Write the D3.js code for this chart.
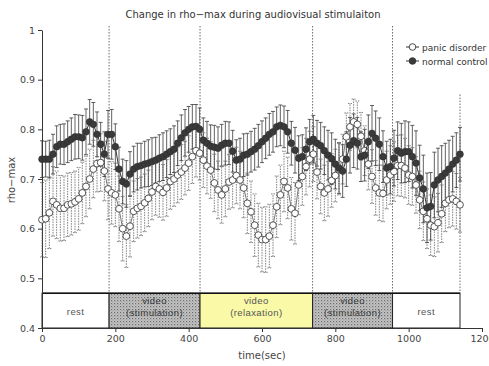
<!DOCTYPE html>
<html>
<head>
<meta charset="utf-8">
<script src="https://cdn.jsdelivr.net/npm/d3@7"></script>
<style>
  body { margin: 0; background: #fff; }
  svg { display: block; font-family: "DejaVu Sans", sans-serif; }
</style>
</head>
<body>
<div id="chart"></div>
<script>
// rho-max, one value every 10 sec (0 .. 1140 s)
const panic = [
  0.618, 0.620, 0.632, 0.655, 0.648, 0.641, 0.641, 0.648, 0.650, 0.654, 0.660, 0.672,
  0.685, 0.700, 0.720, 0.731, 0.733, 0.716, 0.680, 0.672, 0.668, 0.640, 0.600, 0.585,
  0.605, 0.635, 0.641, 0.645, 0.652, 0.661, 0.674, 0.685, 0.680, 0.673, 0.682, 0.695,
  0.700, 0.708, 0.714, 0.722, 0.732, 0.745, 0.757, 0.752, 0.738, 0.726, 0.718, 0.692,
  0.678, 0.668, 0.680, 0.694, 0.698, 0.707, 0.698, 0.682, 0.651, 0.634, 0.607, 0.587,
  0.578, 0.578, 0.585, 0.607, 0.644, 0.668, 0.695, 0.682, 0.640, 0.631, 0.688, 0.705,
  0.725, 0.740, 0.750, 0.714, 0.685, 0.672, 0.680, 0.697, 0.707, 0.720, 0.740, 0.785,
  0.805, 0.815, 0.810, 0.786, 0.757, 0.730, 0.705, 0.682, 0.672, 0.671, 0.698, 0.708,
  0.715, 0.727, 0.727, 0.722, 0.708, 0.705, 0.688, 0.658, 0.635, 0.620, 0.607, 0.604,
  0.612, 0.630, 0.651, 0.658, 0.660, 0.655, 0.648
]
const panicSd = [
  0.075, 0.078, 0.072, 0.070, 0.068, 0.066, 0.065, 0.064, 0.063, 0.062, 0.063, 0.062,
  0.061, 0.060, 0.058, 0.057, 0.058, 0.060, 0.062, 0.063, 0.064, 0.066, 0.065, 0.063,
  0.062, 0.061, 0.060, 0.059, 0.058, 0.057, 0.056, 0.058, 0.057, 0.056, 0.057, 0.056,
  0.055, 0.056, 0.055, 0.054, 0.055, 0.054, 0.053, 0.054, 0.055, 0.056, 0.057, 0.058,
  0.058, 0.057, 0.056, 0.055, 0.056, 0.057, 0.058, 0.060, 0.061, 0.062, 0.063, 0.064,
  0.065, 0.066, 0.064, 0.063, 0.062, 0.060, 0.061, 0.062, 0.063, 0.062, 0.060, 0.058,
  0.057, 0.056, 0.055, 0.054, 0.055, 0.056, 0.055, 0.054, 0.053, 0.052, 0.050, 0.048,
  0.047, 0.046, 0.047, 0.048, 0.050, 0.052, 0.054, 0.055, 0.056, 0.057, 0.058, 0.059,
  0.060, 0.061, 0.062, 0.060, 0.059, 0.058, 0.057, 0.058, 0.059, 0.060, 0.061, 0.060,
  0.059, 0.058, 0.057, 0.056, 0.055, 0.056, 0.055
]
const control = [
  0.740, 0.740, 0.740, 0.750, 0.765, 0.770, 0.770, 0.775, 0.780, 0.785, 0.785, 0.783,
  0.795, 0.815, 0.810, 0.790, 0.770, 0.750, 0.790, 0.790, 0.765, 0.720, 0.695, 0.690,
  0.710, 0.720, 0.725, 0.727, 0.730, 0.732, 0.735, 0.738, 0.742, 0.745, 0.750, 0.755,
  0.760, 0.772, 0.783, 0.793, 0.800, 0.805, 0.806, 0.800, 0.778, 0.772, 0.766, 0.764,
  0.762, 0.768, 0.772, 0.772, 0.756, 0.738, 0.740, 0.748, 0.750, 0.755, 0.760, 0.767,
  0.775, 0.782, 0.790, 0.795, 0.805, 0.808, 0.805, 0.795, 0.772, 0.758, 0.742, 0.745,
  0.760, 0.775, 0.780, 0.772, 0.767, 0.757, 0.748, 0.741, 0.730, 0.722, 0.716, 0.740,
  0.768, 0.777, 0.772, 0.745, 0.748, 0.775, 0.792, 0.782, 0.770, 0.745, 0.722, 0.725,
  0.742, 0.757, 0.752, 0.755, 0.755, 0.745, 0.732, 0.702, 0.680, 0.642, 0.645, 0.688,
  0.698, 0.705, 0.712, 0.720, 0.730, 0.738, 0.750
]
const controlSd = [
  0.037, 0.036, 0.038, 0.040, 0.042, 0.040, 0.041, 0.042, 0.043, 0.045, 0.044, 0.045,
  0.046, 0.045, 0.044, 0.045, 0.044, 0.045, 0.048, 0.050, 0.046, 0.044, 0.045, 0.047,
  0.045, 0.046, 0.047, 0.045, 0.046, 0.047, 0.048, 0.046, 0.047, 0.048, 0.047, 0.046,
  0.047, 0.045, 0.046, 0.047, 0.046, 0.045, 0.044, 0.043, 0.045, 0.044, 0.043, 0.044,
  0.043, 0.042, 0.044, 0.043, 0.042, 0.041, 0.042, 0.043, 0.042, 0.041, 0.042, 0.043,
  0.042, 0.041, 0.042, 0.041, 0.040, 0.041, 0.042, 0.043, 0.044, 0.046, 0.045, 0.044,
  0.043, 0.045, 0.048, 0.046, 0.047, 0.048, 0.050, 0.052, 0.050, 0.051, 0.053, 0.055,
  0.056, 0.054, 0.052, 0.050, 0.052, 0.054, 0.056, 0.055, 0.053, 0.052, 0.054, 0.055,
  0.056, 0.058, 0.060, 0.062, 0.060, 0.063, 0.065, 0.066, 0.068, 0.070, 0.068, 0.066,
  0.064, 0.062, 0.060, 0.058, 0.056, 0.055, 0.054
]
const step = 10

const phaseEdges = [0, 183, 431, 738, 956, 1140]
const phaseNames = [["rest"], ["video", "(stimulation)"], ["video", "(relaxation)"], ["video", "(stimulation)"], ["rest"]]
const phaseKinds = ["rest", "stim", "relax", "stim", "rest"]
const phaseTop = 0.47

const xTicks = [0, 200, 400, 600, 800, 1000, 1200]
const yTicks = [0.4, 0.5, 0.6, 0.7, 0.8, 0.9, 1]
const seriesNames = ["panic disorder", "normal control"]

const W = 489, H = 366
const svg = d3.select("#chart").append("svg").attr("width", W).attr("height", H)

const x = d3.scaleLinear().domain([0, 1200]).range([42, 482])
const y = d3.scaleLinear().domain([0.4, 1]).range([328, 30])

// texture for the stimulation blocks
const defs = svg.append("defs")
const pat = defs.append("pattern").attr("id", "stim").attr("patternUnits", "userSpaceOnUse")
  .attr("width", 3).attr("height", 3)
pat.append("rect").attr("width", 3).attr("height", 3).attr("fill", "#c4c4c4")
pat.append("rect").attr("width", 1.2).attr("height", 1.2).attr("fill", "#6c6c6c")
pat.append("rect").attr("x", 1.5).attr("y", 1.5).attr("width", 1).attr("height", 1).attr("fill", "#8a8a8a")

const fills = { rest: "#fff", stim: "url(#stim)", relax: "#f9f9a8" }

svg.append("text").attr("x", 253).attr("y", 18).attr("text-anchor", "middle")
  .attr("font-size", 10).attr("fill", "#333")
  .text("Change in rho\u2212max during audiovisual stimulaiton")

// phase blocks
const phases = phaseNames.map((n, i) => ({ name: n, kind: phaseKinds[i], a: phaseEdges[i], b: phaseEdges[i + 1] }))
const pg = svg.append("g")
pg.selectAll("rect").data(phases).join("rect")
  .attr("x", d => x(d.a)).attr("y", y(phaseTop))
  .attr("width", d => x(d.b) - x(d.a)).attr("height", y(0.4) - y(phaseTop))
  .attr("fill", d => fills[d.kind]).attr("stroke", "#222").attr("stroke-width", 1)
pg.append("line").attr("x1", x(0)).attr("x2", x(1140)).attr("y1", y(phaseTop)).attr("y2", y(phaseTop))
  .attr("stroke", "#111").attr("stroke-width", 1.6)
pg.selectAll("text.ph").data(phases).join("text").attr("class", "ph")
  .attr("text-anchor", "middle").attr("font-size", 9.5)
  .attr("font-family", "Liberation Sans, Arial, sans-serif").attr("letter-spacing", 0.4)
  .attr("fill", d => d.kind == "stim" ? "#3a3a3a" : "#555")
  .attr("x", d => x((d.a + d.b) / 2))
  .attr("y", d => d.name.length > 1 ? 304 : 315)
  .selectAll("tspan").data(d => d.name).join("tspan")
  .attr("x", function () { return d3.select(this.parentNode).attr("x") })
  .attr("dy", (d, i) => i ? 12 : 0)
  .text(d => d)

// dashed phase separators
const sep = phaseEdges.slice(1)
svg.selectAll("line.sep").data(sep).join("line").attr("class", "sep")
  .attr("x1", d => x(d)).attr("x2", d => x(d))
  .attr("y1", d => d == 1140 ? y(0.87) : y(1.008)).attr("y2", y(phaseTop))
  .attr("stroke", "#444").attr("stroke-width", 0.8).attr("stroke-dasharray", "1.5,1.5")

// axes
const ya = svg.append("g").attr("transform", `translate(${x(0)},0)`)
  .call(d3.axisLeft(y).tickValues(yTicks).tickSize(4).tickSizeOuter(0)
    .tickFormat(d => d == 1 ? "1" : d3.format(".1f")(d)))
const xa = svg.append("g").attr("transform", `translate(0,${y(0.4)})`)
  .call(d3.axisBottom(x).tickValues(xTicks).tickSize(4).tickSizeOuter(0).tickFormat(d3.format("d")))
;[ya, xa].forEach(g => {
  g.selectAll("path, line").attr("stroke", "#333")
  g.selectAll("text").attr("font-size", 9.5).attr("fill", "#444").attr("font-family", "DejaVu Sans, sans-serif")
})

svg.append("text").attr("transform", "translate(15,180) rotate(-90)").attr("text-anchor", "middle")
  .attr("font-size", 10).attr("fill", "#444").text("rho\u2212max")
svg.append("text").attr("x", 262).attr("y", 359).attr("text-anchor", "middle")
  .attr("font-size", 10).attr("fill", "#444").text("time(sec)")

// data
const pd = panic.map((v, i) => ({ t: i * step, v, sd: panicSd[i] }))
const nc = control.map((v, i) => ({ t: i * step, v, sd: controlSd[i] }))

function errorBars(data, color, dash) {
  const g = svg.append("g").attr("stroke", color).attr("stroke-width", 0.8)
  if (dash) g.attr("stroke-dasharray", dash)
  g.selectAll("line.v").data(data).join("line").attr("class", "v")
    .attr("x1", d => x(d.t)).attr("x2", d => x(d.t))
    .attr("y1", d => y(d.v - d.sd)).attr("y2", d => y(d.v + d.sd))
  const caps = data.flatMap(d => [d.v - d.sd, d.v + d.sd].map(e => ({ t: d.t, e })))
  g.selectAll("line.c").data(caps).join("line").attr("class", "c")
    .attr("x1", d => x(d.t) - 2).attr("x2", d => x(d.t) + 2)
    .attr("y1", d => y(d.e)).attr("y2", d => y(d.e))
    .attr("stroke-dasharray", null)
}

errorBars(pd, "#666", "1.6,1")
errorBars(nc, "#3a3a3a", null)

const line = d3.line().x(d => x(d.t)).y(d => y(d.v))
svg.append("path").datum(pd).attr("d", line).attr("fill", "none").attr("stroke", "#555").attr("stroke-width", 0.8)
svg.selectAll("circle.pd").data(pd).join("circle").attr("class", "pd")
  .attr("cx", d => x(d.t)).attr("cy", d => y(d.v)).attr("r", 3.4)
  .attr("fill", "#fff").attr("stroke", "#444").attr("stroke-width", 0.9)

svg.append("path").datum(nc).attr("d", line).attr("fill", "none").attr("stroke", "#333").attr("stroke-width", 1)
svg.selectAll("circle.nc").data(nc).join("circle").attr("class", "nc")
  .attr("cx", d => x(d.t)).attr("cy", d => y(d.v)).attr("r", 3.4)
  .attr("fill", "#3a3a3a").attr("stroke", "#2a2a2a").attr("stroke-width", 0.5)

// legend
const lg = svg.append("g").attr("transform", "translate(406,47)")
seriesNames.forEach((name, i) => {
  const row = lg.append("g").attr("transform", `translate(0,${i * 14})`)
  row.append("line").attr("x1", 0).attr("x2", 13).attr("stroke", "#333").attr("stroke-width", 1)
  row.append("circle").attr("cx", 6.5).attr("r", 3.3)
    .attr("fill", i ? "#3a3a3a" : "#fff").attr("stroke", "#333").attr("stroke-width", 0.9)
  row.append("text").attr("x", 16).attr("y", 3.5).attr("font-size", 9).attr("fill", "#333").text(name)
})
</script>
</body>
</html>
